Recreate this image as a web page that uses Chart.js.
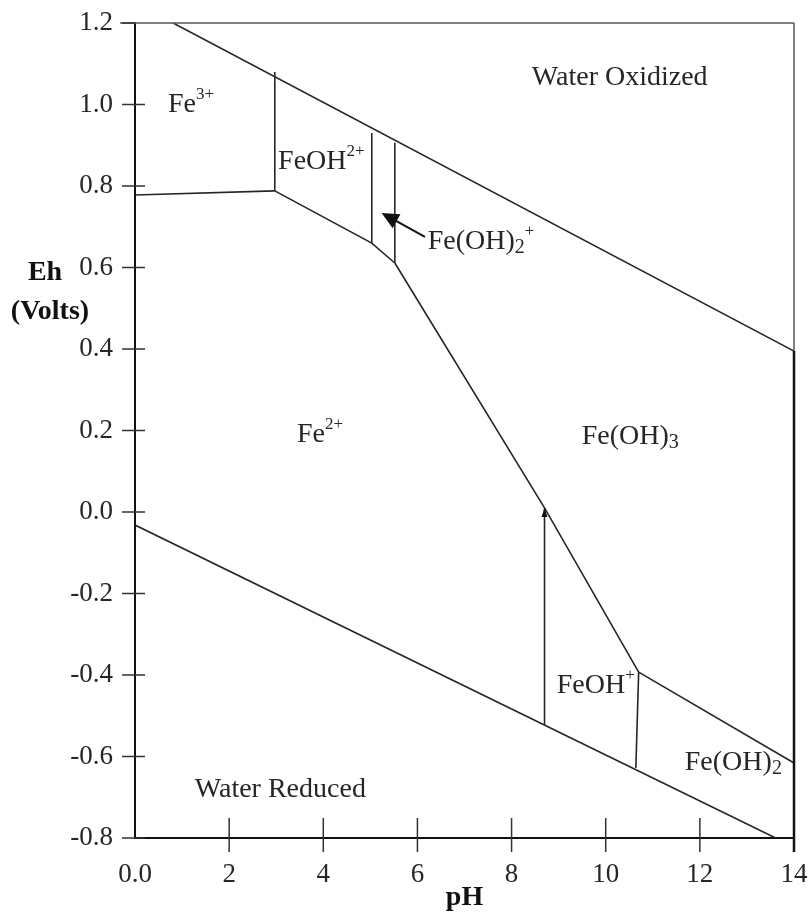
<!DOCTYPE html>
<html>
<head>
<meta charset="utf-8">
<script src="https://cdn.jsdelivr.net/npm/chart.js@4.4.1/dist/chart.umd.min.js"></script>
<style>
  html, body { margin: 0; padding: 0; background: #fff; }
  #wrap { width: 808px; height: 914px; position: relative; }
</style>
</head>
<body>
<div id="wrap"><canvas id="chart"></canvas></div>
<script>
// Eh-pH (Pourbaix) diagram for iron, values as [pH, Eh]
const waterOxidized = [[0.81, 1.20], [14.0, 0.395]];
const waterReduced = [[0.0, -0.032], [13.61, -0.80]];
const fe3Fe2 = [[0.0, 0.778], [2.97, 0.788]];
const fe3FeOH2 = [[2.97, 0.788], [2.97, 1.08]];
const feOH2Fe2 = [[2.97, 0.788], [5.03, 0.660], [5.52, 0.611]];
const feOH2FeOH2p = [[5.03, 0.660], [5.03, 0.930]];
const feOH2pFeOH3 = [[5.52, 0.611], [5.52, 0.906]];
const fe2FeOH3 = [[5.52, 0.611], [8.70, 0.010], [10.70, -0.393]];
const feOH3FeOH2 = [[10.70, -0.393], [14.0, -0.616]];
const feOHpFeOH2 = [[10.70, -0.393], [10.64, -0.628]];
const fe2FeOHp = [[8.70, 0.010], [8.70, -0.523]];

const xTickValues = [0, 2, 4, 6, 8, 10, 12, 14];
const xTickLabels = ['0.0', '2', '4', '6', '8', '10', '12', '14'];
const yTickValues = [-0.8, -0.6, -0.4, -0.2, 0.0, 0.2, 0.4, 0.6, 0.8, 1.0, 1.2];
const yTickLabels = ['-0.8', '-0.6', '-0.4', '-0.2', '0.0', '0.2', '0.4', '0.6', '0.8', '1.0', '1.2'];

// region names: parts are [text, 'n' | 'sup' | 'sub'], anchored at left / middle
const regionNames = [
  { parts: [['Fe', 'n'], ['3+', 'sup']], pH: 0.70, Eh: 0.999 },
  { parts: [['FeOH', 'n'], ['2+', 'sup']], pH: 3.04, Eh: 0.859 },
  { parts: [['Fe(OH)', 'n'], ['2', 'sub'], ['+', 'sup']], pH: 6.22, Eh: 0.663 },
  { parts: [['Fe', 'n'], ['2+', 'sup']], pH: 3.44, Eh: 0.189 },
  { parts: [['Fe(OH)', 'n'], ['3', 'sub']], pH: 9.49, Eh: 0.184 },
  { parts: [['FeOH', 'n'], ['+', 'sup']], pH: 8.96, Eh: -0.427 },
  { parts: [['Fe(OH)', 'n'], ['2', 'sub']], pH: 11.68, Eh: -0.616 },
  { parts: [['Water Oxidized', 'n']], pH: 8.43, Eh: 1.065 },
  { parts: [['Water Reduced', 'n']], pH: 1.27, Eh: -0.682 },
];
const pointerArrow = [[6.16, 0.675], [5.24, 0.734]];

const FONT = '"Liberation Serif", "Times New Roman", serif';
const INK = '#262626';

const boundaries = [waterOxidized, waterReduced, fe3Fe2, fe3FeOH2, feOH2Fe2, feOH2FeOH2p,
  feOH2pFeOH3, fe2FeOH3, feOH3FeOH2, feOHpFeOH2, fe2FeOHp];

function drawRich(ctx, parts, x, y, size) {
  let cx = x;
  ctx.textAlign = 'left';
  ctx.textBaseline = 'middle';
  for (const [text, kind] of parts) {
    if (kind === 'sup') {
      ctx.font = `${Math.round(size * 0.62)}px ${FONT}`;
      ctx.fillText(text, cx, y - size * 0.36);
    } else if (kind === 'sub') {
      ctx.font = `${Math.round(size * 0.7)}px ${FONT}`;
      ctx.fillText(text, cx, y + size * 0.2);
    } else {
      ctx.font = `${size}px ${FONT}`;
      ctx.fillText(text, cx, y);
    }
    cx += ctx.measureText(text).width;
  }
}

function arrowHead(ctx, x0, y0, x1, y1, len, half) {
  const a = Math.atan2(y1 - y0, x1 - x0);
  ctx.beginPath();
  ctx.moveTo(x1, y1);
  ctx.lineTo(x1 - len * Math.cos(a) + half * Math.sin(a), y1 - len * Math.sin(a) - half * Math.cos(a));
  ctx.lineTo(x1 - len * Math.cos(a) - half * Math.sin(a), y1 - len * Math.sin(a) + half * Math.cos(a));
  ctx.closePath();
  ctx.fill();
}

const decorations = {
  id: 'decorations',
  afterDatasetsDraw(chart) {
    const { ctx, chartArea: area, scales: { x, y } } = chart;
    ctx.save();

    // top frame line (runs out to the 1.2 label) and right frame line
    ctx.strokeStyle = '#555';
    ctx.lineWidth = 1.5;
    ctx.beginPath();
    ctx.moveTo(area.left - 15, area.top);
    ctx.lineTo(area.right, area.top);
    ctx.moveTo(area.right, area.top);
    ctx.lineTo(area.right, area.bottom);
    ctx.stroke();
    const yJoin = y.getPixelForValue(waterOxidized[1][1]);
    ctx.strokeStyle = '#111';
    ctx.lineWidth = 2.5;
    ctx.beginPath();
    ctx.moveTo(area.right, yJoin);
    ctx.lineTo(area.right, area.bottom + 14);
    ctx.stroke();

    // tick marks crossing the axes
    ctx.strokeStyle = '#333';
    ctx.lineWidth = 1.5;
    ctx.beginPath();
    yTickValues.forEach(v => {
      const py = y.getPixelForValue(v);
      ctx.moveTo(area.left - 13, py);
      ctx.lineTo(area.left + (v === 1.2 ? 0 : 10), py);
    });
    xTickValues.slice(1, -1).forEach(v => {
      const px = x.getPixelForValue(v);
      ctx.moveTo(px, area.bottom - 20);
      ctx.lineTo(px, area.bottom + 14);
    });
    ctx.stroke();

    // region names
    ctx.fillStyle = INK;
    regionNames.forEach(r => {
      drawRich(ctx, r.parts, x.getPixelForValue(r.pH), y.getPixelForValue(r.Eh), 28);
    });

    // pointer arrow to the Fe(OH)2+ field
    const ax0 = x.getPixelForValue(pointerArrow[0][0]);
    const ay0 = y.getPixelForValue(pointerArrow[0][1]);
    const ax1 = x.getPixelForValue(pointerArrow[1][0]);
    const ay1 = y.getPixelForValue(pointerArrow[1][1]);
    ctx.strokeStyle = '#111';
    ctx.lineWidth = 2;
    ctx.beginPath();
    ctx.moveTo(ax0, ay0);
    ctx.lineTo(ax1 + (ax0 - ax1) * 0.3, ay1 + (ay0 - ay1) * 0.3);
    ctx.stroke();
    ctx.fillStyle = '#111';
    arrowHead(ctx, ax0, ay0, ax1, ay1, 17, 8);

    // small head at the top of the Fe2+/FeOH+ boundary
    const vx = x.getPixelForValue(fe2FeOHp[0][0]);
    arrowHead(ctx, vx, y.getPixelForValue(fe2FeOHp[1][1]), vx, y.getPixelForValue(fe2FeOHp[0][1]), 9, 3);

    // axis titles
    ctx.fillStyle = '#111';
    ctx.font = `bold 28px ${FONT}`;
    ctx.textAlign = 'center';
    ctx.textBaseline = 'middle';
    ctx.fillText('Eh', 45, area.top + 250);
    ctx.fillText('(Volts)', 50, area.top + 289);
    ctx.fillText('pH', x.getPixelForValue(7), area.bottom + 60);
    ctx.restore();
  }
};

new Chart(document.getElementById('chart'), {
  type: 'scatter',
  data: {
    datasets: boundaries.map(line => ({
      data: line.map(([pH, Eh]) => ({ x: pH, y: Eh })),
      showLine: true,
      borderColor: INK,
      borderWidth: 1.6,
      pointRadius: 0,
      fill: false,
      tension: 0,
    })),
  },
  options: {
    responsive: true,
    maintainAspectRatio: false,
    animation: false,
    events: [],
    layout: { padding: { left: 0, top: 23, right: 14, bottom: 0 } },
    plugins: { legend: { display: false }, tooltip: { enabled: false } },
    scales: {
      x: {
        type: 'linear',
        min: 0,
        max: 14,
        afterBuildTicks: axis => { axis.ticks = xTickValues.map(v => ({ value: v })); },
        afterFit: axis => {
          axis.height = 76;
          axis.paddingLeft = 0;
          axis.paddingRight = 0;
        },
        grid: { display: false },
        border: { display: true, color: '#111', width: 2 },
        ticks: {
          autoSkip: false,
          maxRotation: 0,
          padding: 13,
          color: INK,
          font: { family: FONT, size: 27 },
          callback: (v, i) => xTickLabels[i],
        },
      },
      y: {
        type: 'linear',
        min: -0.8,
        max: 1.2,
        afterBuildTicks: axis => { axis.ticks = yTickValues.map(v => ({ value: v })); },
        afterFit: axis => {
          axis.width = 135;
          axis.paddingTop = 0;
          axis.paddingBottom = 0;
        },
        grid: { display: false },
        border: { display: true, color: '#111', width: 2 },
        ticks: {
          autoSkip: false,
          padding: 14,
          color: INK,
          font: { family: FONT, size: 27 },
          callback: (v, i) => yTickLabels[i],
        },
      },
    },
  },
  plugins: [decorations],
});
</script>
</body>
</html>
